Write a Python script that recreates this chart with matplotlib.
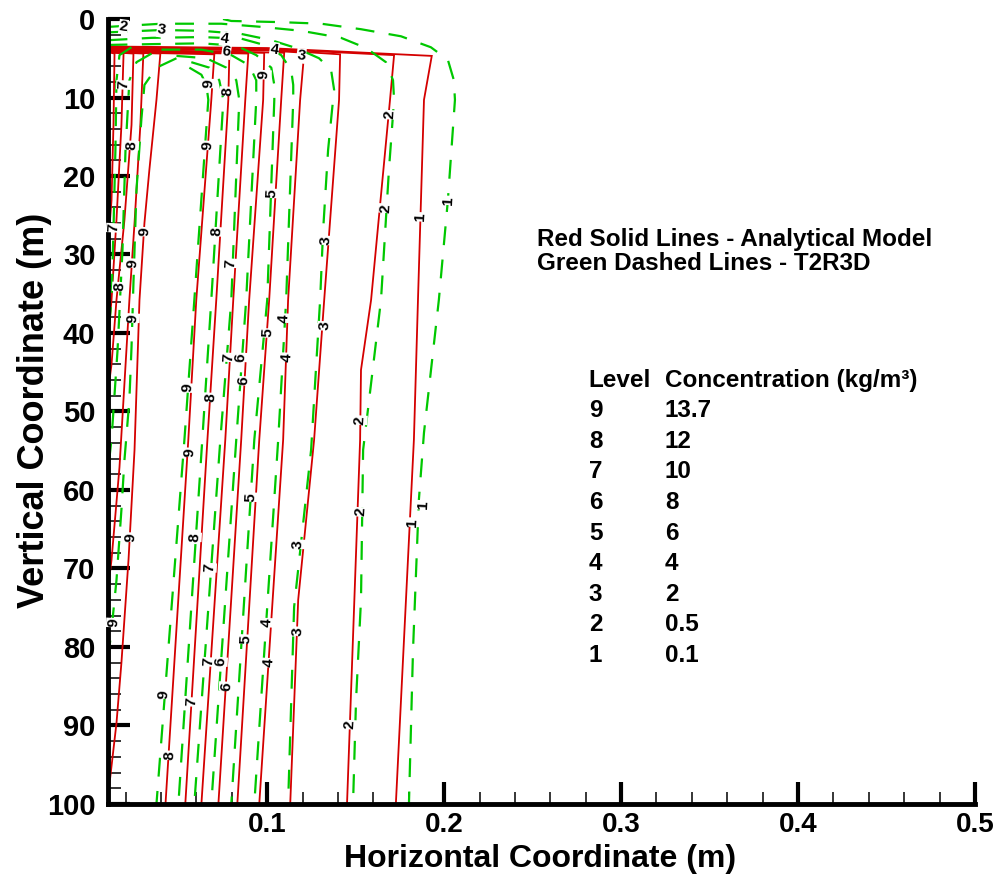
import matplotlib
matplotlib.use('Agg')
from matplotlib import pyplot as plt
from matplotlib.ticker import MultipleLocator

plt.rcParams['font.family'] = ['Liberation Sans', 'DejaVu Sans']

# analytical model contours (x in m, depth in m)
red1_x = [0.010, 0.100, 0.193, 0.1886, 0.1852, 0.1829, 0.1727]
red1_y = [3.5, 3.7, 4.7, 10.3, 35.8, 53.6, 100]
red2_x = [0.010, 0.100, 0.1717, 0.1694, 0.1587, 0.1530, 0.1525, 0.1451]
red2_y = [3.6, 3.8, 4.6, 10.3, 35.8, 44.7, 53.6, 100]
red3_x = [0.010, 0.100, 0.1412, 0.1406, 0.1322, 0.1265, 0.1175, 0.1130]
red3_y = [3.7, 3.9, 4.5, 10.3, 35.8, 53.6, 74.0, 100]
red4_x = [0.010, 0.100, 0.1209, 0.1186, 0.1118, 0.1090, 0.0955]
red4_y = [3.8, 4.0, 4.3, 10.3, 35.8, 53.6, 100]
red5_x = [0.010, 0.1096, 0.1079, 0.1011, 0.0955, 0.0831]
red5_y = [3.9, 4.3, 10.3, 35.8, 53.6, 100]
red6_x = [0.010, 0.0983, 0.0977, 0.0898, 0.0853, 0.0724]
red6_y = [4.0, 4.3, 10.3, 35.8, 53.6, 100]
red7_x = [0.010, 0.0893, 0.0876, 0.0808, 0.0763, 0.0628]
red7_y = [4.1, 4.4, 10.3, 35.8, 53.6, 100]
red8_x = [0.010, 0.0786, 0.0780, 0.0712, 0.0662, 0.0537]
red8_y = [4.1, 4.4, 10.3, 35.8, 53.6, 100]
red9_x = [0.010, 0.0701, 0.0684, 0.0599, 0.0554, 0.0425]
red9_y = [4.2, 4.5, 10.3, 35.8, 53.6, 100]
# near the wall
redw1_x = [0.010, 0.0137, 0.0131, 0.0120, 0.0103]
redw1_y = [4.2, 4.4, 13.5, 23.1, 28.0]
redw2_x = [0.010, 0.0188, 0.0176, 0.0148, 0.0120, 0.0103]
redw2_y = [4.2, 4.4, 13.5, 25.6, 35.8, 40.0]
redw3_x = [0.010, 0.0244, 0.0233, 0.0193, 0.0148, 0.0120, 0.0103]
redw3_y = [4.2, 4.4, 13.5, 25.6, 35.8, 44.0, 47.0]
redw4_x = [0.010, 0.0300, 0.0283, 0.0250, 0.0221, 0.0165, 0.0120, 0.0103]
redw4_y = [4.2, 4.4, 13.5, 26.0, 35.8, 57.1, 68.9, 72.0]
redw5_x = [0.010, 0.0396, 0.0374, 0.0334, 0.0306, 0.0278, 0.0250, 0.0216, 0.0176, 0.0148, 0.0103]
redw5_y = [4.2, 4.4, 10.3, 19.2, 26.0, 35.8, 54.9, 68.9, 82.0, 89.7, 98.5]

# T2R3D contours
green1_x = [0.075, 0.0797, 0.1079, 0.1305, 0.1530, 0.1756, 0.1925, 0.2021, 0.2055, 0.2061,
            0.2021, 0.1970, 0.1886, 0.1857, 0.1824, 0.1801]
green1_y = [0.0, 0.25, 0.4, 0.6, 1.3, 2.2, 3.6, 5.2, 7.8, 10.3, 23.1, 35.8, 52.7, 61.3, 80.4, 100]
green2_x = [0.0103, 0.0402, 0.0740, 0.0966, 0.1192, 0.1417, 0.1559, 0.1671, 0.1711, 0.1717,
            0.1688, 0.1643, 0.1576, 0.1542, 0.1530, 0.1502, 0.1485]
green2_y = [1.0, 0.6, 0.6, 1.0, 1.5, 2.4, 3.7, 5.5, 7.8, 10.3, 19.2, 35.8, 48.5, 54.9, 74.0, 86.8, 100]
green3_x = [0.0103, 0.0402, 0.0628, 0.0853, 0.1023, 0.1164, 0.1293, 0.1361, 0.1378, 0.1372,
            0.1344, 0.1316, 0.1299, 0.1265, 0.1248, 0.1152, 0.1118]
green3_y = [1.7, 1.4, 1.5, 1.9, 2.7, 3.7, 5.0, 6.5, 9.0, 10.3, 16.7, 26.9, 35.8, 48.5, 54.9, 74.9, 100]
green4_x = [0.0103, 0.0346, 0.0628, 0.0853, 0.0966, 0.1079, 0.1135, 0.1147, 0.1147, 0.1107, 0.1062, 0.0927]
green4_y = [2.7, 2.4, 2.3, 2.5, 3.2, 4.6, 6.5, 8.4, 10.3, 35.8, 53.6, 100]
green5_x = [0.0103, 0.0346, 0.0628, 0.0825, 0.0938, 0.1023, 0.1040, 0.1040, 0.1000, 0.0927, 0.0797]
green5_y = [3.3, 3.2, 3.1, 3.4, 4.6, 6.2, 8.4, 10.3, 35.8, 53.6, 100]
green6_x = [0.0402, 0.0628, 0.0797, 0.0898, 0.0938, 0.0938, 0.0881, 0.0825, 0.0684]
green6_y = [3.9, 3.9, 4.6, 5.9, 7.8, 10.3, 35.8, 53.6, 100]
green7_x = [0.0487, 0.0656, 0.0769, 0.0825, 0.0842, 0.0797, 0.0735, 0.0588]
green7_y = [4.7, 5.0, 6.2, 7.8, 10.3, 35.8, 53.6, 100]
green8_x = [0.0571, 0.0673, 0.0729, 0.0752, 0.0684, 0.0633, 0.0498]
green8_y = [5.5, 6.2, 7.8, 10.3, 35.8, 53.6, 100]
green9_x = [0.0560, 0.0628, 0.0656, 0.0667, 0.0588, 0.0532, 0.0374]
green9_y = [6.2, 7.1, 8.4, 10.3, 35.8, 53.6, 100]
greenw1_x = [0.0233, 0.0165, 0.0148, 0.0142, 0.0131, 0.0120, 0.0103]
greenw1_y = [3.6, 4.6, 7.8, 16.7, 26.9, 35.8, 40.0]
greenw2_x = [0.0346, 0.0261, 0.0221, 0.0199, 0.0182, 0.0154, 0.0120, 0.0103]
greenw2_y = [4.4, 5.5, 7.8, 16.7, 29.4, 42.2, 53.5, 57.0]
greenw3_x = [0.0487, 0.0374, 0.0306, 0.0289, 0.0261, 0.0244, 0.0233, 0.0221, 0.0193, 0.0176,
             0.0148, 0.0120, 0.0103]
greenw3_y = [5.0, 6.2, 8.4, 12.7, 21.8, 33.6, 41.8, 48.5, 56.2, 62.5, 71.5, 77.8, 81.0]

# contour labels
lab_x = [0.1694, 0.0662, 0.1023, 0.1671, 0.1863, 0.2021, 0.0712, 0.1333, 0.0791, 0.1096,
         0.1327, 0.1000, 0.0780, 0.0853, 0.1113, 0.0870, 0.0548, 0.0678, 0.1525, 0.0560,
         0.0909, 0.1530, 0.1880, 0.1818, 0.0227, 0.0588, 0.1175, 0.0673, 0.0131, 0.1000,
         0.1175, 0.0881, 0.0667, 0.0735, 0.1011, 0.0769, 0.0413, 0.0571, 0.1468, 0.0447,
         0.0233, 0.0306, 0.0238, 0.0238, 0.0165, 0.0131, 0.0188,
         0.0667, 0.0774, 0.0983]
lab_y = [12.2, 16.1, 22.2, 24.1, 25.2, 23.1, 27.1, 28.2, 31.1, 38.1,
         39.1, 40.0, 43.1, 43.1, 43.1, 46.1, 47.0, 48.2, 51.1, 55.2,
         60.9, 62.8, 61.9, 64.1, 66.0, 66.0, 66.9, 69.9, 76.9, 76.9,
         78.0, 79.0, 81.9, 81.9, 82.0, 85.0, 86.0, 87.0, 89.9, 93.8,
         16.1, 27.1, 31.1, 38.1, 34.1, 26.6, 8.4,
         8.2, 9.2, 7.1]
lab_s = ['2', '9', '5', '2', '1', '1', '8', '3', '7', '4',
         '3', '5', '7', '6', '4', '6', '9', '8', '2', '9',
         '5', '2', '1', '1', '9', '8', '3', '7', '9', '4',
         '3', '5', '7', '6', '4', '6', '9', '7', '2', '8',
         '8', '9', '9', '9', '8', '7', '7',
         '9', '8', '9']
# labels on the top, running along the curves
top_lab_x = [0.0188, 0.0402, 0.0757, 0.0769, 0.1040, 0.1192]
top_lab_y = [1.0, 1.4, 2.5, 4.2, 3.9, 4.7]
top_lab_s = ['2', '3', '4', '6', '4', '3']

levels = ['9', '8', '7', '6', '5', '4', '3', '2', '1']
concentrations = ['13.7', '12', '10', '8', '6', '4', '2', '0.5', '0.1']

red_lines = [(red1_x, red1_y), (red2_x, red2_y), (red3_x, red3_y), (red4_x, red4_y),
             (red5_x, red5_y), (red6_x, red6_y), (red7_x, red7_y), (red8_x, red8_y),
             (red9_x, red9_y), (redw1_x, redw1_y), (redw2_x, redw2_y), (redw3_x, redw3_y),
             (redw4_x, redw4_y), (redw5_x, redw5_y)]
green_lines = [(green1_x, green1_y), (green2_x, green2_y), (green3_x, green3_y),
               (green4_x, green4_y), (green5_x, green5_y), (green6_x, green6_y),
               (green7_x, green7_y), (green8_x, green8_y), (green9_x, green9_y),
               (greenw1_x, greenw1_y), (greenw2_x, greenw2_y), (greenw3_x, greenw3_y)]

fig = plt.figure(figsize=(9.98, 8.8), dpi=100)
ax = fig.add_axes([0.1082, 0.0864, 0.8687, 0.8920])

for xs, ys in red_lines:
    ax.plot(xs, ys, color='#d40000', lw=1.3, solid_joinstyle='miter')
for xs, ys in green_lines:
    ax.plot(xs, ys, color='#00c800', lw=1.6, dashes=(8.5, 6.5))

box = dict(facecolor='white', edgecolor='none', pad=0.3)
for x, y, s in zip(lab_x, lab_y, lab_s):
    ax.text(x, y, s, fontsize=11, fontweight='bold', rotation=87,
            ha='center', va='center', bbox=box)
for x, y, s in zip(top_lab_x, top_lab_y, top_lab_s):
    ax.text(x, y, s, fontsize=11, fontweight='bold', rotation=-8,
            ha='center', va='center', bbox=box)

ax.set_xlim(0.01, 0.5)
ax.set_ylim(100, 0)
ax.xaxis.set_minor_locator(MultipleLocator(0.02))
ax.yaxis.set_major_locator(MultipleLocator(10))
ax.yaxis.set_minor_locator(MultipleLocator(2))
ax.set_xticks([0.1, 0.2, 0.3, 0.4, 0.5])
ax.set_xticklabels(['0.1', '0.2', '0.3', '0.4', '0.5'])

for side in ['top', 'right']:
    ax.spines[side].set_visible(False)
for side in ['left', 'bottom']:
    ax.spines[side].set_linewidth(3.5)

ax.tick_params(which='major', direction='in', length=16, width=3, labelsize=21, pad=9)
ax.tick_params(axis='x', which='major', labelsize=20, pad=6)
ax.tick_params(which='minor', direction='in', length=9, width=1.1)
for lab in ax.get_xticklabels() + ax.get_yticklabels():
    lab.set_fontweight('bold')

ax.set_xlabel('Horizontal Coordinate (m)', fontsize=23, fontweight='bold')
ax.set_ylabel('Vertical Coordinate (m)', fontsize=26, fontweight='bold')
ax.xaxis.set_label_coords(0.498, -0.0515)
ax.yaxis.set_label_coords(-0.0646, 0.502)

fig.text(0.538, 0.7273, 'Red Solid Lines - Analytical Model', fontsize=17.5,
         fontweight='bold', va='center')
fig.text(0.538, 0.7011, 'Green Dashed Lines - T2R3D', fontsize=17.5,
         fontweight='bold', va='center')

# level table
fig.text(0.590, 0.568, 'Level', fontsize=17.5, fontweight='bold', va='center')
fig.text(0.6663, 0.568, 'Concentration (kg/m³)', fontsize=17.5, fontweight='bold', va='center')
for i, (lv, c) in enumerate(zip(levels, concentrations)):
    yy = 0.568 - (i + 1) * 30.6 / 880
    fig.text(0.590, yy, lv, fontsize=17.5, fontweight='bold', va='center')
    fig.text(0.6663, yy, c, fontsize=17.5, fontweight='bold', va='center')

fig.savefig('out.png', dpi=100)
